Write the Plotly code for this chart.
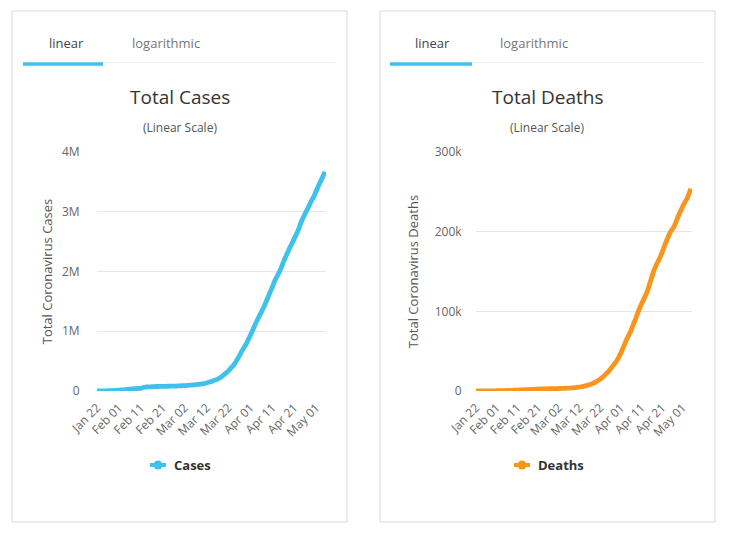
import pandas as pd
import plotly.graph_objects as go

# ---------------- data ----------------
dates = pd.date_range("2020-01-22", "2020-05-05", freq="D")

cases = [
    580, 845, 1317, 2015, 2800, 4581, 6058, 7813, 9823, 11950,          # Jan 22-31
    14553, 17391, 20630, 24545, 28266, 31439, 34876, 37552, 40553, 43099,  # Feb 1-10
    45134, 59287, 64438, 67100, 69197, 71329, 73332, 75184, 75700, 76677,  # Feb 11-20
    77673, 78651, 79205, 80087, 80828, 81820, 83112, 84615, 86604,        # Feb 21-29
    88585, 90443, 93016, 95314, 98425, 102050, 106099, 109991, 114381, 118948,  # Mar 1-10
    126214, 134576, 145483, 156653, 169593, 182490, 198238, 218822, 244933, 275597,  # Mar 11-20
    305036, 336953, 378235, 418045, 467653, 529591, 593291, 660706, 720117, 782365, 857487,  # Mar 21-31
    932605, 1013466, 1095917, 1176060, 1249754, 1321481, 1396476, 1479804, 1565278, 1657526,  # Apr 1-10
    1735650, 1834721, 1904838, 1976191, 2056054, 2152437, 2240190, 2317758, 2401378, 2472259,  # Apr 11-20
    2549046, 2624074, 2708885, 2811193, 2896746, 2971475, 3041764, 3116398, 3193886, 3256846,  # Apr 21-30
    3343777, 3427343, 3506729, 3583055, 3670000,                         # May 1-5
]

deaths = [
    17, 25, 41, 56, 80, 106, 132, 170, 213, 259,
    304, 362, 426, 492, 565, 638, 724, 813, 910, 1018,
    1115, 1261, 1383, 1526, 1669, 1775, 1873, 2009, 2126, 2247,
    2360, 2460, 2618, 2699, 2763, 2800, 2858, 2923, 2977,
    3050, 3117, 3202, 3285, 3387, 3494, 3599, 3827, 4025, 4296,
    4628, 4981, 5428, 5833, 6520, 7162, 7979, 8951, 9995, 11429,
    13134, 14831, 16748, 19018, 21855, 24089, 27477, 30928, 34115, 37638, 42325,
    47275, 53190, 59205, 65569, 70548, 75967, 82753, 89107, 96151, 103123,
    108830, 114351, 119797, 126122, 134197, 142341, 150788, 157015, 162203, 167413,
    173782, 180720, 187446, 193731, 199296, 203189, 207288, 213911, 220377, 226033,
    231531, 236675, 241000, 247500, 254000,
]

xtick_vals = ["2020-01-22", "2020-02-01", "2020-02-11", "2020-02-21", "2020-03-02",
              "2020-03-12", "2020-03-22", "2020-04-01", "2020-04-11", "2020-04-21", "2020-05-01"]
xtick_text = ["Jan 22", "Feb 01", "Feb 11", "Feb 21", "Mar 02", "Mar 12",
              "Mar 22", "Apr 01", "Apr 11", "Apr 21", "May 01"]

cases_yticks = [0, 1e6, 2e6, 3e6, 4e6]
cases_ytext = ["0", "1M", "2M", "3M", "4M"]
deaths_yticks = [0, 100000, 200000, 300000]
deaths_ytext = ["0", "100k", "200k", "300k"]

CYAN = "#3ec2ec"
ORANGE = "#f7951d"
FONT = "Open Sans"

W, H = 730, 537
def fx(px):
    return px / W
def fy(py):
    return 1 - py / H

fig = go.Figure()
fig.add_trace(go.Scatter(x=dates, y=cases, mode="lines", name="Cases",
                         line=dict(color=CYAN, width=4.8, shape="spline", smoothing=0.6),
                         xaxis="x", yaxis="y", showlegend=False))
fig.add_trace(go.Scatter(x=dates, y=deaths, mode="lines", name="Deaths",
                         line=dict(color=ORANGE, width=4.8, shape="spline", smoothing=0.6),
                         xaxis="x2", yaxis="y2", showlegend=False))

xcommon = dict(type="date", tickvals=xtick_vals, ticktext=xtick_text, tickangle=-45,
               showgrid=False, zeroline=False, showline=False,
               ticks="outside", ticklen=4, tickcolor="rgba(0,0,0,0)",
               tickfont=dict(family=FONT, size=12, color="#666666"),
               range=["2020-01-22", "2020-05-05 12:00"], automargin=False)
ycommon = dict(showgrid=True, gridcolor="#e6e6e6", gridwidth=1, zeroline=False,
               showline=False, ticks="outside", tickcolor="rgba(0,0,0,0)",
               tickfont=dict(family=FONT, size=12, color="#666666"), automargin=False)

fig.update_layout(
    width=W, height=H,
    margin=dict(l=0, r=0, t=0, b=0),
    paper_bgcolor="white", plot_bgcolor="white",
    showlegend=False,
    xaxis=dict(domain=[fx(97), fx(326)], anchor="y", **xcommon),
    yaxis=dict(domain=[fy(391), fy(152)], anchor="x", range=[0, 4e6],
               tickvals=cases_yticks, ticktext=cases_ytext, ticklen=14,
               title=dict(text="Total Coronavirus Cases", standoff=6,
                          font=dict(family=FONT, size=13, color="#555555")),
               **ycommon),
    xaxis2=dict(domain=[fx(476), fx(692)], anchor="y2", **xcommon),
    yaxis2=dict(domain=[fy(391), fy(152)], anchor="x2", range=[0, 300000],
                tickvals=deaths_yticks, ticktext=deaths_ytext, ticklen=11,
                title=dict(text="Total Coronavirus Deaths", standoff=13,
                           font=dict(family=FONT, size=13, color="#555555")),
                **ycommon),
)

shapes = []
annotations = []

panels = [
    dict(x0=12, x1=347, tabs=(66, 166), ul=(23, 103), gl=(103, 335),
         title="Total Cases", tc=180, leg="Cases", lc=CYAN, sym=158, ltx=172),
    dict(x0=380, x1=715, tabs=(433, 534), ul=(390, 472), gl=(472, 703),
         title="Total Deaths", tc=547, leg="Deaths", lc=ORANGE, sym=522, ltx=536),
]

for p in panels:
    # card border
    shapes.append(dict(type="rect", xref="paper", yref="paper",
                       x0=fx(p["x0"]), x1=fx(p["x1"]), y0=fy(522), y1=fy(11),
                       line=dict(color="#d9d9d9", width=1), fillcolor="rgba(0,0,0,0)",
                       layer="below"))
    # tab baseline + active underline
    shapes.append(dict(type="line", xref="paper", yref="paper",
                       x0=fx(p["gl"][0]), x1=fx(p["gl"][1]), y0=fy(62.5), y1=fy(62.5),
                       line=dict(color="#f0f0f0", width=1)))
    shapes.append(dict(type="line", xref="paper", yref="paper",
                       x0=fx(p["ul"][0]), x1=fx(p["ul"][1]), y0=fy(64), y1=fy(64),
                       line=dict(color=CYAN, width=3.5)))
    # tabs
    annotations.append(dict(text="linear", x=fx(p["tabs"][0]), y=fy(43), xref="paper", yref="paper",
                            showarrow=False, xanchor="center", yanchor="middle",
                            font=dict(family=FONT, size=13, color="#444444")))
    annotations.append(dict(text="logarithmic", x=fx(p["tabs"][1]), y=fy(43), xref="paper", yref="paper",
                            showarrow=False, xanchor="center", yanchor="middle",
                            font=dict(family=FONT, size=13, color="#777777")))
    # title & subtitle
    annotations.append(dict(text=p["title"], x=fx(p["tc"]), y=fy(97), xref="paper", yref="paper",
                            showarrow=False, xanchor="center", yanchor="middle",
                            font=dict(family=FONT, size=19, color="#333333")))
    annotations.append(dict(text="(Linear Scale)", x=fx(p["tc"]), y=fy(128), xref="paper", yref="paper",
                            showarrow=False, xanchor="center", yanchor="middle",
                            font=dict(family=FONT, size=12, color="#555555")))
    # legend symbol (line + circle) and label
    shapes.append(dict(type="line", xref="paper", yref="paper",
                       x0=fx(p["sym"] - 8), x1=fx(p["sym"] + 8), y0=fy(465), y1=fy(465),
                       line=dict(color=p["lc"], width=4)))
    shapes.append(dict(type="circle", xref="paper", yref="paper",
                       x0=fx(p["sym"] - 4.5), x1=fx(p["sym"] + 4.5),
                       y0=fy(469.5), y1=fy(460.5),
                       line=dict(color=p["lc"], width=0), fillcolor=p["lc"]))
    annotations.append(dict(text="<b>%s</b>" % p["leg"], x=fx(p["ltx"]), y=fy(465),
                            xref="paper", yref="paper", showarrow=False,
                            xanchor="left", yanchor="middle",
                            font=dict(family=FONT, size=13, color="#333333")))

fig.update_layout(shapes=shapes, annotations=annotations)
fig.write_html("out.html", config={"displayModeBar": False},
               post_script="document.body.style.margin='0';")
